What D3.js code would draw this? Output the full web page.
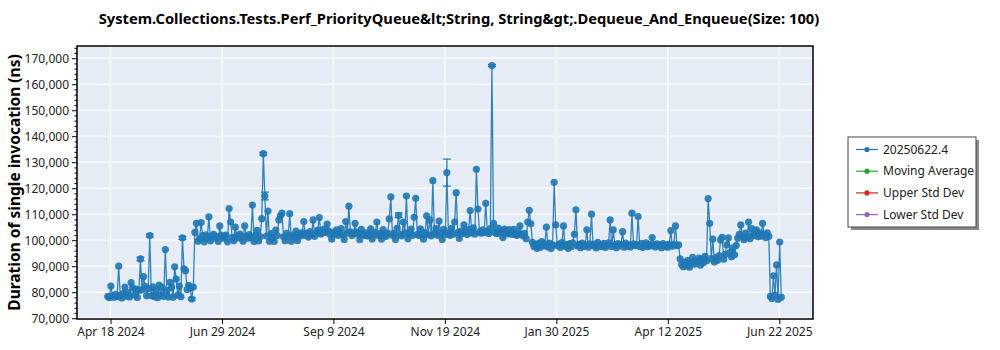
<!DOCTYPE html>
<html>
<head>
<meta charset="utf-8">
<script src="https://cdn.jsdelivr.net/npm/d3@7"></script>
<style>
  body { margin: 0; background: #ffffff; }
  svg { display: block; font-family: "Noto Sans", "Open Sans", sans-serif; }
</style>
</head>
<body>
<svg id="chart" width="1000" height="350"></svg>
<script>
// ---- data -------------------------------------------------------------
const runDates = [
  "2024-04-17","2024-04-18","2024-04-19","2024-04-20","2024-04-21","2024-04-22","2024-04-23","2024-04-24","2024-04-25","2024-04-26","2024-04-27","2024-04-28","2024-04-29","2024-04-30",
  "2024-05-01","2024-05-02","2024-05-03","2024-05-04","2024-05-05","2024-05-06","2024-05-07","2024-05-08","2024-05-09","2024-05-10","2024-05-11","2024-05-12","2024-05-13","2024-05-14","2024-05-15","2024-05-16","2024-05-17","2024-05-18","2024-05-19","2024-05-20","2024-05-21","2024-05-22","2024-05-23","2024-05-24","2024-05-25","2024-05-26","2024-05-27","2024-05-28","2024-05-29","2024-05-30","2024-05-31",
  "2024-06-01","2024-06-02","2024-06-03","2024-06-04","2024-06-05","2024-06-06","2024-06-07","2024-06-08","2024-06-09","2024-06-10","2024-06-11","2024-06-12","2024-06-13","2024-06-14","2024-06-15","2024-06-16","2024-06-17","2024-06-18","2024-06-19","2024-06-20","2024-06-21","2024-06-22","2024-06-23","2024-06-24","2024-06-25","2024-06-26","2024-06-27","2024-06-28","2024-06-29","2024-06-30",
  "2024-07-01","2024-07-02","2024-07-03","2024-07-04","2024-07-05","2024-07-06","2024-07-07","2024-07-08","2024-07-09","2024-07-10","2024-07-11","2024-07-12","2024-07-13","2024-07-14","2024-07-15","2024-07-16","2024-07-17","2024-07-18","2024-07-19","2024-07-20","2024-07-21","2024-07-22","2024-07-23","2024-07-24","2024-07-25","2024-07-26","2024-07-27","2024-07-28","2024-07-29","2024-07-30","2024-07-31",
  "2024-08-01","2024-08-02","2024-08-03","2024-08-04","2024-08-05","2024-08-06","2024-08-07","2024-08-08","2024-08-09","2024-08-10","2024-08-11","2024-08-12","2024-08-13","2024-08-14","2024-08-15","2024-08-16","2024-08-17","2024-08-18","2024-08-19","2024-08-20","2024-08-21","2024-08-22","2024-08-23","2024-08-24","2024-08-25","2024-08-26","2024-08-27","2024-08-28","2024-08-29","2024-08-30","2024-08-31",
  "2024-09-01","2024-09-02","2024-09-03","2024-09-04","2024-09-05","2024-09-06","2024-09-07","2024-09-08","2024-09-09","2024-09-10","2024-09-11","2024-09-12","2024-09-13","2024-09-14","2024-09-15","2024-09-16","2024-09-17","2024-09-18","2024-09-19","2024-09-20","2024-09-21","2024-09-22","2024-09-23","2024-09-24","2024-09-25","2024-09-26","2024-09-27","2024-09-28","2024-09-29","2024-09-30",
  "2024-10-01","2024-10-02","2024-10-03","2024-10-04","2024-10-05","2024-10-06","2024-10-07","2024-10-08","2024-10-09","2024-10-10","2024-10-11","2024-10-12","2024-10-13","2024-10-14","2024-10-15","2024-10-16","2024-10-17","2024-10-18","2024-10-19","2024-10-20","2024-10-21","2024-10-22","2024-10-23","2024-10-24","2024-10-25","2024-10-26","2024-10-27","2024-10-28","2024-10-29","2024-10-30","2024-10-31",
  "2024-11-01","2024-11-02","2024-11-03","2024-11-04","2024-11-05","2024-11-06","2024-11-07","2024-11-08","2024-11-09","2024-11-10","2024-11-11","2024-11-12","2024-11-13","2024-11-14","2024-11-15","2024-11-16","2024-11-17","2024-11-18","2024-11-19","2024-11-20","2024-11-21","2024-11-22","2024-11-23","2024-11-24","2024-11-25","2024-11-26","2024-11-27","2024-11-28","2024-11-29","2024-11-30",
  "2024-12-01","2024-12-02","2024-12-03","2024-12-04","2024-12-05","2024-12-06","2024-12-07","2024-12-08","2024-12-09","2024-12-10","2024-12-11","2024-12-12","2024-12-13","2024-12-14","2024-12-15","2024-12-16","2024-12-17","2024-12-18","2024-12-19","2024-12-20","2024-12-21","2024-12-22","2024-12-23","2024-12-24","2024-12-25","2024-12-26","2024-12-27","2024-12-28","2024-12-29","2024-12-30","2024-12-31",
  "2025-01-01","2025-01-02","2025-01-03","2025-01-04","2025-01-05","2025-01-06","2025-01-07","2025-01-08","2025-01-09","2025-01-10","2025-01-11","2025-01-12","2025-01-13","2025-01-14","2025-01-15","2025-01-16","2025-01-17","2025-01-18","2025-01-19","2025-01-20","2025-01-21","2025-01-22","2025-01-23","2025-01-24","2025-01-25","2025-01-26","2025-01-27","2025-01-28","2025-01-29","2025-01-30","2025-01-31",
  "2025-02-01","2025-02-02","2025-02-03","2025-02-04","2025-02-05","2025-02-06","2025-02-07","2025-02-08","2025-02-09","2025-02-10","2025-02-11","2025-02-12","2025-02-13","2025-02-14","2025-02-15","2025-02-16","2025-02-17","2025-02-18","2025-02-19","2025-02-20","2025-02-21","2025-02-22","2025-02-23","2025-02-24","2025-02-25","2025-02-26","2025-02-27","2025-02-28",
  "2025-03-01","2025-03-02","2025-03-03","2025-03-04","2025-03-05","2025-03-06","2025-03-07","2025-03-08","2025-03-09","2025-03-10","2025-03-11","2025-03-12","2025-03-13","2025-03-14","2025-03-15","2025-03-16","2025-03-17","2025-03-18","2025-03-19","2025-03-20","2025-03-21","2025-03-22","2025-03-23","2025-03-24","2025-03-25","2025-03-26","2025-03-27","2025-03-28","2025-03-29","2025-03-30","2025-03-31",
  "2025-04-01","2025-04-02","2025-04-03","2025-04-04","2025-04-05","2025-04-06","2025-04-07","2025-04-08","2025-04-09","2025-04-10","2025-04-11","2025-04-12","2025-04-13","2025-04-14","2025-04-15","2025-04-16","2025-04-17","2025-04-18","2025-04-19","2025-04-20","2025-04-21","2025-04-22","2025-04-23","2025-04-24","2025-04-25","2025-04-26","2025-04-27","2025-04-28","2025-04-29","2025-04-30",
  "2025-05-01","2025-05-02","2025-05-03","2025-05-04","2025-05-05","2025-05-06","2025-05-07","2025-05-08","2025-05-09","2025-05-10","2025-05-11","2025-05-12","2025-05-13","2025-05-14","2025-05-15","2025-05-16","2025-05-17","2025-05-18","2025-05-19","2025-05-20","2025-05-21","2025-05-22","2025-05-23","2025-05-24","2025-05-25","2025-05-26","2025-05-27","2025-05-28","2025-05-29","2025-05-30","2025-05-31",
  "2025-06-01","2025-06-02","2025-06-03","2025-06-04","2025-06-05","2025-06-06","2025-06-07","2025-06-08","2025-06-09","2025-06-10","2025-06-11","2025-06-12","2025-06-13","2025-06-14","2025-06-15","2025-06-16","2025-06-17","2025-06-18","2025-06-19","2025-06-20","2025-06-21","2025-06-22","2025-06-23","2025-06-24"
];

// duration of a single invocation, ns (one row per month)
const durations = [
  78400,77900,82400,78600,78100,79200,78300,90000,78800,77800,79600,82000,78500,79900,
  78200,83700,81700,78900,81200,78000,80800,92800,80900,86000,82300,78600,81400,101800,78700,82100,78300,80800,77900,82700,78800,81900,78400,96400,80600,78200,83800,81800,78100,89800,85000,
  78900,82400,78300,100900,89000,88300,81000,82600,81600,77400,82000,103000,106500,99600,100600,106800,101800,99400,102100,101000,109000,99700,101600,102300,100900,101400,99500,105500,101900,100800,
  101300,102000,99400,112200,107000,101100,99800,105000,101700,100900,102400,101200,99600,105500,101500,100800,102200,101000,113500,99500,101900,103800,99700,101400,108300,133300,117000,101600,111200,99600,102500,
  101100,99500,103900,101800,107800,109400,110400,101300,99800,102600,101500,110200,99600,102000,101400,103500,99900,102300,101600,102900,107200,101900,102700,101200,103300,102100,107800,101500,102800,103900,108700,
  102400,103100,104300,102900,106200,103600,102200,100400,103000,102500,104000,101900,102800,104500,102100,100300,107200,102700,113100,103200,101800,102600,106500,103100,102200,100200,104200,102400,101900,102800,
  101600,102300,104400,100500,102100,102900,107000,101800,102500,100400,104100,102000,101500,102700,108200,116700,101900,102600,100300,104600,109600,102200,101700,107000,102800,117000,100600,102400,104300,101900,108800,
  116100,102300,101800,104400,102500,100400,102900,109400,102100,107800,101700,122900,102600,104500,101900,107400,102800,100300,104200,102200,126000,102700,101800,104600,102300,107000,118300,102900,100700,103500,
  102600,105900,103100,102200,104100,111400,102800,104800,102400,127300,112000,103200,102700,104000,102900,114200,103400,102600,104500,167200,106500,103000,102500,104700,102800,103300,101000,104300,102900,102400,104100,
  102700,102200,104200,102400,101900,102800,105500,102300,101700,102600,100600,107000,111500,106300,99200,97600,98400,96900,98800,97300,99500,97800,98600,105000,97400,98900,96800,98200,122300,105900,97900,
  98500,97200,99100,105500,97700,98300,96900,98700,97500,99000,102300,111700,97800,98400,97100,98900,97600,98200,104000,97300,98600,110000,97900,98500,97000,99200,97700,98300,
  97500,98800,97200,98100,99000,107800,97600,104000,98300,97100,98700,97800,98400,103300,97300,98900,97700,98200,97400,110400,98600,97900,98300,109100,97600,98800,97200,98100,99000,97500,98400,
  97800,101000,98200,97400,98600,97900,98300,97100,98700,97600,98100,97300,98500,103700,97700,98400,105500,97900,98200,92800,90600,89800,91500,90200,92300,89600,91100,93400,90800,92000,
  91800,93100,90400,92600,91300,93800,92100,116000,106500,92900,100400,91600,93300,92200,94100,100100,101100,92700,94600,98200,100900,95200,93600,97100,94400,98000,100800,102300,105900,101400,100200,
  102700,101100,107000,100600,104500,101800,102500,104000,101300,102900,101600,106500,102200,101000,102800,101500,78400,77600,86300,78900,90500,77200,99300,78100
];

// runs reported with a spread (half-width of the error bar, ns)
const errorDates = ["2024-05-08","2024-05-14","2024-06-04","2024-06-10","2024-07-26","2024-07-27","2024-10-21","2024-11-21","2024-12-20"];
const errorHalfWidths = [700, 600, 600, 500, 500, 1500, 900, 5200, 400];

const yTickValues = [70000, 80000, 90000, 100000, 110000, 120000, 130000, 140000, 150000, 160000, 170000];
const xTickLabels = ["Apr 18 2024", "Jun 29 2024", "Sep 9 2024", "Nov 19 2024", "Jan 30 2025", "Apr 12 2025", "Jun 22 2025"];
const xTickDates = ["2024-04-18T18:00:00Z", "2024-06-29T10:00:00Z", "2024-09-09T02:00:00Z", "2024-11-19T18:00:00Z", "2025-01-30T10:00:00Z", "2025-04-12T02:00:00Z", "2025-06-22T18:00:00Z"];

const legendLabels = ["20250622.4", "Moving Average", "Upper Std Dev", "Lower Std Dev"];
const legendColors = ["#1f77b4", "#2ca02c", "#d62728", "#9467bd"];

const chartTitle = "System.Collections.Tests.Perf_PriorityQueue&lt;String, String&gt;.Dequeue_And_Enqueue(Size: 100)";
const yAxisTitle = "Duration of single invocation (ns)";

// ---- layout -------------------------------------------------------------
const plot = { left: 77, right: 813, top: 46, bottom: 319 };
const seriesColor = legendColors[0];

const points = runDates.map((d, i) => ({ date: new Date(d + "T00:00:00Z"), value: durations[i] }));
const errorMap = new Map(errorDates.map((d, i) => [d, errorHalfWidths[i]]));
const errorPoints = runDates
  .map((d, i) => ({ key: d, date: points[i].date, value: durations[i] }))
  .filter(p => errorMap.has(p.key))
  .map(p => ({ ...p, err: errorMap.get(p.key) }));

const x = d3.scaleUtc()
  .domain([new Date("2024-03-28T05:00:00Z"), new Date("2025-07-14T10:00:00Z")])
  .range([plot.left, plot.right]);

const y = d3.scaleLinear()
  .domain([69700, 174700])
  .range([plot.bottom, plot.top]);

const svg = d3.select("#chart");

// title
svg.append("text")
  .attr("x", 459).attr("y", 24)
  .attr("text-anchor", "middle")
  .attr("font-size", 14.7).attr("font-weight", "bold").attr("fill", "#000")
  .text(chartTitle);

// y axis title
svg.append("text")
  .attr("transform", `translate(20,${(plot.top + plot.bottom) / 2}) rotate(-90)`)
  .attr("text-anchor", "middle")
  .attr("font-size", 15.5).attr("font-weight", "bold").attr("fill", "#000")
  .text(yAxisTitle);

// plot background
svg.append("rect")
  .attr("x", plot.left).attr("y", plot.top)
  .attr("width", plot.right - plot.left).attr("height", plot.bottom - plot.top)
  .attr("fill", "#e5ecf6");

// grid
const xTicks = xTickDates.map(d => new Date(d));
const grid = svg.append("g").attr("stroke", "#ffffff").attr("stroke-width", 1.3);
grid.selectAll("line.gy").data(yTickValues).join("line")
  .attr("x1", plot.left).attr("x2", plot.right)
  .attr("y1", d => y(d)).attr("y2", d => y(d));
grid.selectAll("line.gx").data(xTicks).join("line")
  .attr("x1", d => x(d)).attr("x2", d => x(d))
  .attr("y1", plot.top).attr("y2", plot.bottom);

// clip to plot area
svg.append("clipPath").attr("id", "plot-clip")
  .append("rect")
  .attr("x", plot.left).attr("y", plot.top)
  .attr("width", plot.right - plot.left).attr("height", plot.bottom - plot.top);

const marks = svg.append("g").attr("clip-path", "url(#plot-clip)");

// connecting line
const line = d3.line().x(d => x(d.date)).y(d => y(d.value));
marks.append("path")
  .datum(points)
  .attr("fill", "none")
  .attr("stroke", seriesColor)
  .attr("stroke-width", 1.3)
  .attr("stroke-opacity", 0.9)
  .attr("d", line);

// error bars
const eb = marks.append("g").attr("stroke", seriesColor).attr("stroke-width", 1.2);
errorPoints.forEach(p => {
  const cx = x(p.date);
  eb.append("line").attr("x1", cx).attr("x2", cx).attr("y1", y(p.value - p.err)).attr("y2", y(p.value + p.err));
  eb.append("line").attr("x1", cx - 4).attr("x2", cx + 4).attr("y1", y(p.value - p.err)).attr("y2", y(p.value - p.err));
  eb.append("line").attr("x1", cx - 4).attr("x2", cx + 4).attr("y1", y(p.value + p.err)).attr("y2", y(p.value + p.err));
});

// markers
marks.append("g")
  .selectAll("circle")
  .data(points)
  .join("circle")
  .attr("cx", d => x(d.date))
  .attr("cy", d => y(d.value))
  .attr("r", 3.6)
  .attr("fill", seriesColor)
  .attr("fill-opacity", 0.9);

// axes
const yAxis = d3.axisLeft(y).tickValues(yTickValues).tickFormat(d3.format(",")).tickSize(5).tickPadding(3);
const yAxisG = svg.append("g").attr("transform", `translate(${plot.left},0)`).call(yAxis);
yAxisG.select(".domain").remove();
yAxisG.selectAll("text").attr("font-size", 12).attr("fill", "#222").attr("font-family", "\"Noto Sans\", sans-serif");

const yMinor = d3.axisLeft(y).tickValues(d3.range(70000, 174001, 2000).filter(v => v % 10000 !== 0)).tickSize(2.5).tickFormat("");
const yMinorG = svg.append("g").attr("transform", `translate(${plot.left},0)`).call(yMinor);
yMinorG.select(".domain").remove();

const xAxis = d3.axisBottom(x).tickValues(xTicks).tickFormat((d, i) => xTickLabels[i]).tickSize(5).tickPadding(3);
const xAxisG = svg.append("g").attr("transform", `translate(0,${plot.bottom})`).call(xAxis);
xAxisG.select(".domain").remove();
xAxisG.selectAll("text").attr("font-size", 12).attr("fill", "#222").attr("font-family", "\"Noto Sans\", sans-serif");

// frame
svg.append("rect")
  .attr("x", plot.left).attr("y", plot.top)
  .attr("width", plot.right - plot.left).attr("height", plot.bottom - plot.top)
  .attr("fill", "none").attr("stroke", "#000").attr("stroke-width", 1.5);

// legend
const legend = svg.append("g").attr("transform", "translate(848,137)");
legend.append("rect").attr("x", 3).attr("y", 3).attr("width", 128).attr("height", 90).attr("fill", "#8a8a8a");
legend.append("rect").attr("x", 0).attr("y", 0).attr("width", 128).attr("height", 90)
  .attr("fill", "#ffffff").attr("stroke", "#444").attr("stroke-width", 1);
const items = legend.selectAll("g.item").data(legendLabels).join("g")
  .attr("transform", (d, i) => `translate(0,${12.5 + i * 21.7})`);
items.append("line").attr("x1", 8).attr("x2", 30).attr("y1", 0).attr("y2", 0)
  .attr("stroke", (d, i) => legendColors[i]).attr("stroke-width", 1.2);
items.append("circle").attr("cx", 19).attr("cy", 0).attr("r", 2.6)
  .attr("fill", (d, i) => legendColors[i]);
items.append("text").attr("x", 35).attr("y", 0).attr("dy", "0.35em")
  .attr("font-size", 12).attr("fill", "#222")
  .text(d => d);
</script>
</body>
</html>
